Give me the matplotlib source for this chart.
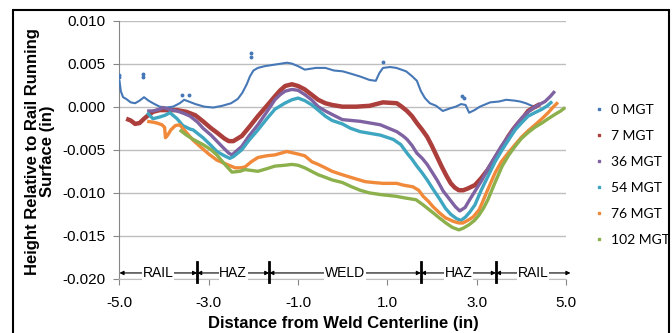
import matplotlib
matplotlib.use('Agg')
from matplotlib import pyplot as plt
from matplotlib.lines import Line2D
from matplotlib.patches import Rectangle

plt.rcParams['font.family'] = ['Liberation Sans', 'DejaVu Sans']

# 0 MGT
bx = [-5.0, -4.97, -4.92, -4.85, -4.75, -4.65, -4.55, -4.45, -4.35, -4.25, -4.1, -3.95, -3.8, -3.65, -3.55,
      -3.45, -3.3, -3.1, -2.9, -2.7, -2.5, -2.35, -2.25, -2.15, -2.08, -2.0, -1.9, -1.75, -1.5, -1.25, -1.14,
      -1.0, -0.85, -0.6, -0.39, -0.2, 0.0, 0.2, 0.39, 0.6, 0.74, 0.82, 0.9, 1.06, 1.2, 1.42, 1.56, 1.66, 1.75,
      1.84, 1.95, 2.09, 2.24, 2.4, 2.53, 2.65, 2.75, 2.83, 2.95, 3.07, 3.3, 3.5, 3.66, 3.85, 3.97, 4.1, 4.19, 4.33]
by = [0.0030, 0.0018, 0.0011, 0.0009, 0.0005, 0.0004, 0.0007, 0.0011, 0.0007, 0.0004, 0.0, -0.0001, 0.0, 0.0004,
      0.0008, 0.0006, 0.0003, 0.0, -0.0001, 0.0001, 0.0004, 0.0009, 0.0016, 0.0026, 0.0035, 0.0042, 0.0045, 0.0047,
      0.0049, 0.0051, 0.0050, 0.0047, 0.0043, 0.0045, 0.0045, 0.0042, 0.0041, 0.0038, 0.0035, 0.0031, 0.0030,
      0.0039, 0.0045, 0.0046, 0.0045, 0.0041, 0.0035, 0.0030, 0.0018, 0.0010, 0.0004, 0.0001, -0.0005, -0.0002,
      0.0, 0.0003, 0.0002, -0.0007, -0.0004, 0.0, 0.0005, 0.0006, 0.0008, 0.0007, 0.0006, 0.0004, 0.0002, -0.0001]
# stray 0 MGT readings
bsx = [-5.0, -5.0, -4.48, -4.48, -2.05, -2.05, 0.9, 2.67, 2.72, -3.6, -3.45]
bsy = [0.0034, 0.0037, 0.0035, 0.0038, 0.0058, 0.0062, 0.0052, 0.0012, 0.0010, 0.0013, 0.0013]

# 7 MGT
rx = [-4.85, -4.75, -4.65, -4.55, -4.45, -4.38, -4.25, -4.1, -3.9, -3.71, -3.5, -3.3, -3.13, -2.95, -2.82, -2.65,
      -2.55, -2.45, -2.26, -2.1, -1.9, -1.7, -1.52, -1.4, -1.29, -1.14, -1.0, -0.85, -0.7, -0.55, -0.39, -0.24,
      -0.01, 0.3, 0.6, 0.9, 1.21, 1.32, 1.44, 1.55, 1.66, 1.78, 1.89, 2.0, 2.11, 2.22, 2.33, 2.42, 2.51, 2.6, 2.7,
      2.8, 2.96, 3.1, 3.25, 3.37, 3.48, 3.6, 3.7, 3.82, 3.93, 4.05, 4.15, 4.31, 4.42]
ry = [-0.0014, -0.0016, -0.0020, -0.0019, -0.0014, -0.0011, -0.0006, -0.0004, -0.0004, -0.0004, -0.0006, -0.0010,
      -0.0017, -0.0025, -0.0030, -0.0037, -0.0040, -0.0040, -0.0034, -0.0024, -0.0011, 0.0001, 0.0012, 0.0019,
      0.0024, 0.0026, 0.0024, 0.0020, 0.0014, 0.0008, 0.0004, 0.0002, 0.0, 0.0, 0.0001, 0.0005, 0.0004, 0.0,
      -0.0005, -0.0011, -0.0019, -0.0027, -0.0035, -0.0046, -0.0058, -0.0070, -0.0081, -0.0089, -0.0094, -0.0097,
      -0.0097, -0.0095, -0.0091, -0.0083, -0.0073, -0.0063, -0.0054, -0.0044, -0.0035, -0.0026, -0.0019, -0.0012,
      -0.0005, 0.0, 0.0003]

# 36 MGT
px_ = [-4.38, -4.25, -4.1, -4.03, -3.9, -3.71, -3.55, -3.42, -3.25, -3.13, -2.95, -2.82, -2.65, -2.55, -2.48, -2.26,
       -2.1, -1.9, -1.7, -1.52, -1.4, -1.29, -1.14, -1.0, -0.85, -0.7, -0.55, -0.39, -0.24, -0.01, 0.39, 0.84, 1.21,
       1.35, 1.44, 1.55, 1.66, 1.78, 1.89, 2.0, 2.11, 2.25, 2.4, 2.52, 2.62, 2.74, 2.83, 2.95, 3.12, 3.25, 3.41,
       3.55, 3.7, 3.86, 4.01, 4.15, 4.31, 4.53, 4.65, 4.75]
py_ = [-0.0005, -0.0005, -0.0003, -0.0001, -0.0003, -0.0005, -0.0008, -0.0011, -0.0018, -0.0025, -0.0033, -0.0040,
       -0.0049, -0.0054, -0.0056, -0.0046, -0.0034, -0.0021, -0.0006, 0.0008, 0.0014, 0.0018, 0.0020, 0.0019,
       0.0014, 0.0008, 0.0, -0.0005, -0.0009, -0.0015, -0.0017, -0.0021, -0.0029, -0.0034, -0.0038, -0.0045,
       -0.0054, -0.0060, -0.0067, -0.0076, -0.0085, -0.0098, -0.0108, -0.0116, -0.0121, -0.0117, -0.0109, -0.0099,
       -0.0085, -0.0072, -0.0058, -0.0046, -0.0035, -0.0023, -0.0013, -0.0006, 0.0, 0.0006, 0.0012, 0.0018]

# 54 MGT
tx = [-4.38, -4.25, -4.1, -3.98, -3.87, -3.71, -3.58, -3.42, -3.35, -3.13, -2.95, -2.82, -2.65, -2.53, -2.45, -2.26,
      -2.1, -1.9, -1.7, -1.52, -1.3, -1.14, -1.0, -0.85, -0.69, -0.55, -0.39, -0.24, -0.01, 0.17, 0.39, 0.84, 1.13,
      1.3, 1.44, 1.55, 1.66, 1.78, 1.89, 2.0, 2.18, 2.3, 2.42, 2.55, 2.65, 2.75, 2.85, 2.96, 3.1, 3.25, 3.41, 3.57,
      3.72, 3.86, 4.0, 4.15, 4.3, 4.46, 4.58, 4.69]
ty = [-0.0007, -0.0014, -0.0012, -0.0010, -0.0007, -0.0014, -0.0022, -0.0026, -0.0027, -0.0036, -0.0045, -0.0052,
      -0.0057, -0.0060, -0.0058, -0.0050, -0.0039, -0.0027, -0.0014, -0.0003, 0.0004, 0.0008, 0.0010, 0.0007,
      0.0002, -0.0004, -0.0011, -0.0016, -0.0020, -0.0025, -0.0029, -0.0033, -0.0038, -0.0044, -0.0054, -0.0061,
      -0.0069, -0.0077, -0.0085, -0.0094, -0.0108, -0.0118, -0.0125, -0.0130, -0.0132, -0.0128, -0.0122, -0.0114,
      -0.0097, -0.0081, -0.0064, -0.0050, -0.0038, -0.0027, -0.0019, -0.0011, -0.0007, -0.0003, 0.0001, 0.0006]

# 76 MGT
ox = [-4.38, -4.25, -4.16, -4.05, -3.99, -3.97, -3.92, -3.85, -3.75, -3.65, -3.5, -3.35, -3.2, -3.0, -2.82, -2.64,
      -2.5, -2.41, -2.3, -2.19, -2.05, -1.9, -1.7, -1.52, -1.25, -1.0, -0.85, -0.69, -0.55, -0.39, -0.24, -0.01,
      0.24, 0.5, 0.68, 0.9, 1.21, 1.35, 1.57, 1.7, 1.8, 1.92, 2.02, 2.16, 2.3, 2.47, 2.6, 2.69, 2.8, 2.92, 3.05,
      3.12, 3.25, 3.41, 3.55, 3.7, 3.86, 4.01, 4.15, 4.31, 4.46, 4.6, 4.72, 4.82]
oy = [-0.0017, -0.0018, -0.0019, -0.0021, -0.0024, -0.0036, -0.0033, -0.0027, -0.0022, -0.0021, -0.0030, -0.0039,
      -0.0046, -0.0055, -0.0062, -0.0066, -0.0069, -0.0071, -0.0071, -0.0070, -0.0064, -0.0059, -0.0057, -0.0056,
      -0.0052, -0.0055, -0.0057, -0.0064, -0.0067, -0.0071, -0.0075, -0.0079, -0.0083, -0.0087, -0.0088, -0.0089,
      -0.0089, -0.0091, -0.0093, -0.0097, -0.0104, -0.0110, -0.0116, -0.0123, -0.0129, -0.0133, -0.0135, -0.0135,
      -0.0132, -0.0128, -0.0120, -0.0112, -0.0096, -0.0077, -0.0064, -0.0054, -0.0044, -0.0035, -0.0028, -0.0021,
      -0.0014, -0.0007, 0.0, 0.0005]

# 102 MGT
gx = [-3.65, -3.5, -3.35, -3.13, -2.95, -2.82, -2.64, -2.48, -2.3, -2.19, -2.05, -1.9, -1.7, -1.52, -1.3, -1.14, -1.0,
      -0.85, -0.7, -0.55, -0.39, -0.24, -0.01, 0.2, 0.39, 0.59, 0.84, 1.19, 1.4, 1.64, 1.8, 2.02, 2.16, 2.31, 2.45,
      2.6, 2.7, 2.83, 2.95, 3.05, 3.15, 3.25, 3.41, 3.57, 3.72, 3.86, 4.0, 4.15, 4.3, 4.46, 4.6, 4.75, 4.88, 4.98]
gy = [-0.0027, -0.0033, -0.0038, -0.0044, -0.0050, -0.0056, -0.0067, -0.0076, -0.0075, -0.0073, -0.0074, -0.0075,
      -0.0072, -0.0069, -0.0068, -0.0067, -0.0068, -0.0071, -0.0075, -0.0079, -0.0082, -0.0085, -0.0088, -0.0093,
      -0.0097, -0.0100, -0.0102, -0.0104, -0.0106, -0.0108, -0.0114, -0.0123, -0.0129, -0.0135, -0.0140, -0.0143,
      -0.0141, -0.0137, -0.0132, -0.0126, -0.0118, -0.0108, -0.0088, -0.0069, -0.0056, -0.0046, -0.0037, -0.0030,
      -0.0024, -0.0019, -0.0014, -0.0009, -0.0005, -0.0001]

labels = ['0 MGT', '7 MGT', '36 MGT', '54 MGT', '76 MGT', '102 MGT']
colors = ['#4677B6', '#AC3F3C', '#7E62A1', '#3EA6C1', '#F0893A', '#8CB04C']

# zone boundaries and labels along the bottom
zone_edges = [-5.0, -3.26, -1.645, 1.75, 3.43, 5.1]
zone_names = ['RAIL', 'HAZ', 'WELD', 'HAZ', 'RAIL']

fig = plt.figure(figsize=(6.72, 3.33), dpi=100)
ax = fig.add_axes([0.1778, 0.1622, 0.6645, 0.7762])

ax.plot(bx, by, color=colors[0], lw=1.5, zorder=3)
ax.plot(bsx, bsy, ls='none', marker='o', ms=1.8, color=colors[0], zorder=3)
series = [(rx, ry, 3.2), (px_, py_, 2.4), (tx, ty, 2.4), (ox, oy, 2.4), (gx, gy, 2.4)]
for i, (x, y, w) in enumerate(series):
    ax.plot(x, y, color=colors[i + 1], lw=w, solid_capstyle='butt', zorder=4 + i)

ax.set_xlim(-5, 5)
ax.set_ylim(-0.020, 0.010)
ax.set_xticks([-5, -3, -1, 1, 3, 5])
ax.set_xticklabels(['-5.0', '-3.0', '-1.0', '1.0', '3.0', '5.0'])
ax.set_yticks([-0.020, -0.015, -0.010, -0.005, 0.0, 0.005, 0.010])
ax.set_yticklabels(['-0.020', '-0.015', '-0.010', '-0.005', '0.000', '0.005', '0.010'])
ax.tick_params(labelsize=11, color='#868686', length=4, width=0.8)
ax.tick_params(axis='x', pad=8)
ax.tick_params(axis='y', pad=6)
ax.grid(axis='y', color='#BEBEBE', lw=1)
ax.set_axisbelow(True)
for s in ['top', 'right']:
    ax.spines[s].set_visible(False)
ax.spines['left'].set_color('#868686')
ax.spines['bottom'].set_color('#BEBEBE')

ax.set_xlabel('Distance from Weld Centerline (in)', fontsize=12, fontweight='bold')
ax.set_ylabel('Height Relative to Rail Running\nSurface (in)', fontsize=12, fontweight='bold', linespacing=1.0)
ax.xaxis.set_label_coords(0.502, -0.143)
ax.yaxis.set_label_coords(-0.1445, 0.493)

# zone markers
ya = -0.0193
for e in zone_edges[1:-1]:
    ax.plot([e, e], [-0.0180, -0.0203], color='black', lw=2, clip_on=False, zorder=10)
for i, name in enumerate(zone_names):
    a, b = zone_edges[i], zone_edges[i + 1]
    ax.annotate('', xy=(b, ya), xytext=(a, ya),
                arrowprops=dict(arrowstyle='<|-|>', color='black', lw=0.8, mutation_scale=6,
                                shrinkA=0, shrinkB=0), annotation_clip=False, zorder=9)
    ax.text((a + b) / 2, ya, name, fontsize=10, ha='center', va='center', zorder=11,
            bbox=dict(facecolor='white', edgecolor='none', pad=0.5))

handles = [Line2D([], [], ls='none', marker='s', ms=1.8, color=c) for c in colors]
fig.legend(handles, labels, loc='center left', bbox_to_anchor=(0.887, 0.4745), frameon=False,
           prop={'family': 'Lato', 'size': 10}, borderpad=0, borderaxespad=0,
           handlelength=0.4, handletextpad=0.7, labelspacing=1.0)

fig.add_artist(Rectangle((0.0193, -0.05), 0.9762, 1.02, transform=fig.transFigure,
                         fill=False, edgecolor='black', lw=1.5))

fig.savefig('out.png', dpi=100)
